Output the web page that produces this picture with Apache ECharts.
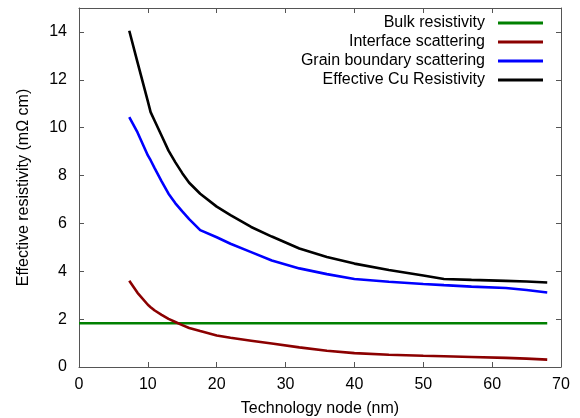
<!DOCTYPE html>
<html>
<head>
<meta charset="utf-8">
<script src="https://cdn.jsdelivr.net/npm/echarts@6/dist/echarts.min.js"></script>
<style>
  html, body { margin: 0; padding: 0; background: #fff; }
  #chart { width: 580px; height: 418px; }
</style>
</head>
<body>
<div id="chart"></div>
<script>
// Technology node (nm) sample points shared by the scattering curves
const nodes = [7.3, 8.5, 10, 10.4, 11, 12, 13, 14, 15, 16, 17.6, 20, 22, 25, 28, 32, 36, 40, 45, 50, 53, 57, 62, 65, 68];

// Resistivity contributions (mΩ cm)
const bulkNodes = [0, 68];
const bulkValues = [1.83, 1.83];
const interfaceValues = [3.6, 3.1, 2.6, 2.5, 2.36, 2.18, 2.01, 1.88, 1.75, 1.63, 1.5, 1.32, 1.22, 1.1, 0.98, 0.82, 0.68, 0.58, 0.51, 0.47, 0.45, 0.42, 0.38, 0.35, 0.31];
const grainValues = [10.44, 9.8, 8.84, 8.64, 8.3, 7.76, 7.24, 6.84, 6.5, 6.18, 5.72, 5.42, 5.15, 4.8, 4.45, 4.12, 3.88, 3.68, 3.56, 3.47, 3.42, 3.36, 3.3, 3.22, 3.11];
const effectiveValues = [14.05, 12.73, 11.1, 10.65, 10.28, 9.66, 9.04, 8.55, 8.1, 7.7, 7.24, 6.7, 6.35, 5.85, 5.45, 4.95, 4.6, 4.32, 4.05, 3.82, 3.68, 3.64, 3.6, 3.57, 3.53];

const seriesNames = ['Bulk resistivity', 'Interface scattering', 'Grain boundary scattering', 'Effective Cu Resistivity'];
const seriesColors = ['#008000', '#8b0000', '#0000ff', '#000000'];

const xTicks = [0, 70, 10];   // min, max, step
const yTicks = [0, 15, 2];

const pairs = (xs, ys) => xs.map((x, i) => [x, ys[i]]);

const font = 'Liberation Sans, Arial, sans-serif';
const axisColor = '#555';

const chart = echarts.init(document.getElementById('chart'), null, { renderer: 'canvas' });

const baseX = {
  type: 'value', min: xTicks[0], max: xTicks[1], interval: xTicks[2],
  axisLine: { show: true, onZero: false, lineStyle: { color: axisColor, width: 1 } },
  axisTick: { show: true, inside: true, length: 5, lineStyle: { color: axisColor } },
  splitLine: { show: false }
};
const baseY = {
  type: 'value', min: yTicks[0], max: yTicks[1], interval: yTicks[2],
  axisLine: { show: true, onZero: false, lineStyle: { color: axisColor, width: 1 } },
  axisTick: { show: true, inside: true, length: 5, lineStyle: { color: axisColor } },
  splitLine: { show: false }
};

const line = (name, data, color) => ({
  name, type: 'line', data, showSymbol: false, symbol: 'none',
  lineStyle: { color, width: 2.6 }, itemStyle: { color },
  animation: false, silent: true
});

chart.setOption({
  backgroundColor: '#ffffff',
  animation: false,
  grid: { left: 79, right: 19, top: 8, bottom: 51, containLabel: false, outerBoundsMode: 'none' },
  legend: {
    orient: 'vertical', right: 37, top: 15, padding: 0, itemGap: 3,
    align: 'right', itemWidth: 45, itemHeight: 3,
    textStyle: { fontFamily: font, fontSize: 16, color: '#000', lineHeight: 16, padding: [0, 8, 0, 0] },
    data: seriesNames.map(n => ({ name: n, icon: 'rect' })),
    selectedMode: false
  },
  xAxis: [
    Object.assign({}, baseX, {
      position: 'bottom',
      name: 'Technology node (nm)', nameLocation: 'middle', nameGap: 34,
      nameTextStyle: { fontFamily: font, fontSize: 16, color: '#000' },
      axisLabel: { fontFamily: font, fontSize: 16, color: '#000', margin: 10 }
    }),
    Object.assign({}, baseX, { position: 'top', axisLabel: { show: false } })
  ],
  yAxis: [
    Object.assign({}, baseY, {
      position: 'left',
      name: 'Effective resistivity (mΩ cm)', nameLocation: 'middle', nameGap: 47,
      nameTextStyle: { fontFamily: font, fontSize: 16, color: '#000' },
      axisLabel: { fontFamily: font, fontSize: 16, color: '#000', margin: 12, showMaxLabel: false }
    }),
    Object.assign({}, baseY, { position: 'right', axisLabel: { show: false } })
  ],
  series: [
    line(seriesNames[0], pairs(bulkNodes, bulkValues), seriesColors[0]),
    line(seriesNames[1], pairs(nodes, interfaceValues), seriesColors[1]),
    line(seriesNames[2], pairs(nodes, grainValues), seriesColors[2]),
    line(seriesNames[3], pairs(nodes, effectiveValues), seriesColors[3])
  ]
});
</script>
</body>
</html>
